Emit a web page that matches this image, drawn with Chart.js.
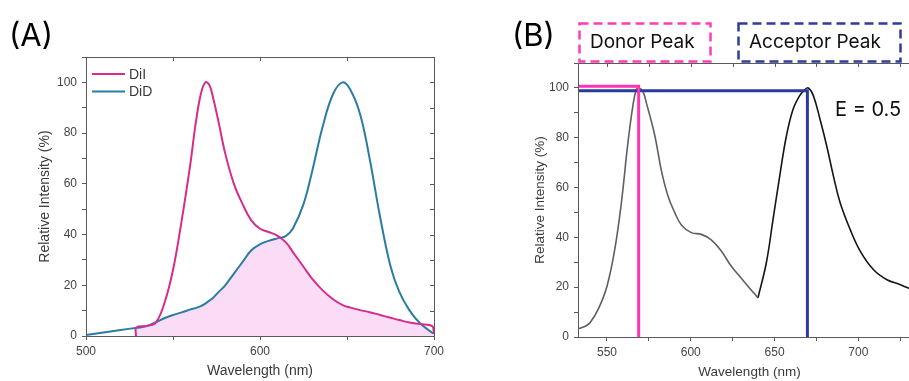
<!DOCTYPE html>
<html>
<head>
<meta charset="utf-8">
<title>DiI / DiD emission spectra</title>
<script src="https://cdn.jsdelivr.net/npm/chart.js@4.4.1/dist/chart.umd.min.js"></script>
<style>
  html, body { margin: 0; padding: 0; background: #fff; }
  .wrap { position: relative; width: 909px; height: 381px; overflow: hidden; }
  canvas { position: absolute; top: 0; }
  #chartA { left: 0; }
  #chartB { left: 450px; }
  .panel-label { position: absolute; font-family: 'Inter', sans-serif; font-size: 31px; line-height: 40px; height: 40px; color: #000; }
  .annot { position: absolute; font-family: 'Inter', sans-serif; font-size: 19px; line-height: 30px; height: 30px; color: #111; white-space: nowrap; }
  svg.boxes { position: absolute; left: 0; top: 0; }
</style>
</head>
<body>
<div class="wrap">
  <canvas id="chartA" width="450" height="381"></canvas>
  <canvas id="chartB" width="475" height="381"></canvas>

  <div class="panel-label" style="left:9px; top:15px;">(A)</div>
  <div class="panel-label" style="left:512px; top:15px;">(B)</div>

  <svg class="boxes" width="909" height="381">
    <rect x="579.5" y="23.5" width="131" height="38" fill="none" stroke="#ff3db4" stroke-width="2.5" stroke-dasharray="9 5"></rect>
    <rect x="738.5" y="23.5" width="162" height="38" fill="none" stroke="#2e3c9c" stroke-width="2.5" stroke-dasharray="9 5"></rect>
  </svg>
  <div class="annot" style="left:590px; top:27px;">Donor Peak</div>
  <div class="annot" style="left:749px; top:27px;">Acceptor Peak</div>
  <div class="annot" style="left:835px; top:94px; font-size:20px;">E = 0.5</div>
</div>

<script>
/* ---------------------------------------------
   Panel A: DiI and DiD emission spectra (%)
   on a shared wavelength grid
   (DiI has no data below ~529 nm).
   --------------------------------------------- */
var wavelengthA = [500, 510, 520, 528.7, 529, 535, 540, 545, 550, 555, 560, 563, 566, 568.6, 571, 573, 576, 580, 585, 590, 595, 600, 605, 610, 615, 619, 625, 630, 636, 642, 647.5, 652, 657.5, 663, 669, 675, 680, 686, 692, 699, 700];
var diiValues   = [null, null, null, 0, 3.4, 4.0, 5.2, 12.8, 26, 45.6, 68, 83.6, 95.4, 100, 98.8, 94, 85, 72, 60, 52, 45.6, 42.3, 41, 39.6, 36.8, 33, 27.3, 22.5, 18, 14.5, 12.2, 11.2, 10.2, 9.4, 8.3, 7.2, 6.3, 5.3, 4.7, 3.9, 1];
var didValues   = [0.4, 1.4, 2.4, 3.2, 3.2, 3.9, 5.4, 7, 8.3, 9.3, 10.5, 11, 11.8, 12.8, 14, 15, 17.2, 20, 24.6, 29.2, 33.8, 36.2, 37.5, 38.5, 39.5, 42.5, 52, 65, 82.5, 95.4, 100, 97, 87.5, 70, 47, 27.5, 17.5, 10, 5, 1.3, 1];

/* ---------------------------------------------
   Panel B: FRET emission spectrum, split into the
   donor band (grey) and acceptor band (black).
   --------------------------------------------- */
var donorBandWl     = [533.3, 537, 540, 545, 550, 554.6, 558.6, 562.5, 565.5, 567.5, 569.3, 571.5, 573.5, 578.5, 582.4, 586.4, 590.4, 594.4, 600.3, 606.3, 612.2, 618.2, 624.2, 629.2, 634.1, 640.1];
var donorBandValues = [3.4, 4.3, 5.8, 11.5, 20.4, 35, 54, 78, 93, 99.3, 100, 98.5, 94, 81, 67, 56.6, 50, 45, 41.9, 41.2, 39, 34.5, 28.4, 24.4, 20.4, 15.7];
var acceptorBandWl     = [640.1, 645.1, 649.1, 653.1, 657.1, 661.1, 665.1, 668.1, 670.1, 673.1, 677.1, 681.1, 685.1, 689.1, 695.1, 701.1, 709.1, 717.1, 725.1, 732];
var acceptorBandValues = [15.7, 29.8, 47.2, 64.7, 80.8, 91.5, 97, 99.3, 100, 97, 87.5, 76.8, 64.7, 54, 43.2, 34.5, 27, 23, 21, 19];

// Peak marker lines: [wavelength, level]
var donorPeak    = [568.9, 100.7];
var acceptorPeak = [669.6, 98.9];

// Tick labels shown on the axes
var yTickLabels  = [0, 20, 40, 60, 80, 100];
var xTickLabelsA = [500, 600, 700];
var xTickLabelsB = [550, 600, 650, 700];

var axisColour = '#5a5a5a';
var textColour = '#3a3a3a';
var fontFamily = "'Liberation Sans', Arial, sans-serif";

Chart.defaults.font.family = fontFamily;
Chart.defaults.color = '#444';
Chart.defaults.animation = false;

function toPoints(xs, ys) {
  return xs.map(function (x, i) { return { x: x, y: ys[i] }; });
}

function onlyLabels(list) {
  return function (value) { return list.indexOf(value) !== -1 ? String(value) : ''; };
}

// Smooth spectrum line, no markers
function spectrum(label, points, colour, width) {
  return { label: label, data: points, borderColor: colour, borderWidth: width,
           pointRadius: 0, tension: 0.4, fill: false };
}

// Box frame round the plot area, with mirrored inward ticks on top and right
var framePlugin = {
  id: 'frame',
  afterDatasetsDraw: function (chart) {
    var a = chart.chartArea, ctx = chart.ctx;
    var xs = chart.scales.x, ys = chart.scales.y;
    ctx.save();
    ctx.strokeStyle = axisColour;
    ctx.lineWidth = 1;
    ctx.strokeRect(Math.round(a.left) + 0.5, Math.round(a.top) + 0.5,
                   Math.round(a.right - a.left), Math.round(a.bottom - a.top));
    ctx.beginPath();
    xs.ticks.forEach(function (t) {
      var px = Math.round(xs.getPixelForValue(t.value)) + 0.5;
      ctx.moveTo(px, a.top); ctx.lineTo(px, a.top + 4);
    });
    ys.ticks.forEach(function (t) {
      var py = Math.round(ys.getPixelForValue(t.value)) + 0.5;
      ctx.moveTo(a.right, py); ctx.lineTo(a.right - 4, py);
    });
    ctx.stroke();
    ctx.restore();
  }
};

// Legend drawn inside the top-left corner of panel A
var insideLegend = {
  id: 'insideLegend',
  afterDraw: function (chart) {
    var a = chart.chartArea, ctx = chart.ctx;
    ctx.save();
    ctx.font = '14px ' + fontFamily;
    ctx.textBaseline = 'middle';
    [0, 1].forEach(function (i) {
      var ds = chart.data.datasets[i];
      var y = a.top + 17 + i * 17.5;
      ctx.strokeStyle = ds.borderColor;
      ctx.lineWidth = 2;
      ctx.beginPath();
      ctx.moveTo(a.left + 6, y); ctx.lineTo(a.left + 39, y);
      ctx.stroke();
      ctx.fillStyle = textColour;
      ctx.fillText(ds.label, a.left + 43, y + 1);
    });
    ctx.restore();
  }
};

function xAxis(min, max, step, labels, height, titleSize) {
  return {
    type: 'linear', min: min, max: max,
    ticks: { stepSize: step, includeBounds: false, autoSkip: false, maxRotation: 0,
             callback: onlyLabels(labels), padding: 4, color: '#444', font: { size: 12 } },
    grid: { drawOnChartArea: false, tickLength: 4, color: axisColour },
    border: { color: axisColour },
    title: { display: true, text: 'Wavelength (nm)', color: textColour,
             font: { size: titleSize }, padding: { top: 0, bottom: 1 } },
    afterFit: function (s) { s.height = height; }
  };
}

function yAxis(width, titlePad, titleSize) {
  return {
    min: 0, max: 110,
    ticks: { stepSize: 10, autoSkip: false, callback: onlyLabels(yTickLabels),
             padding: 5, color: '#444', font: { size: 12 } },
    grid: { drawOnChartArea: false, tickLength: 4, color: axisColour },
    border: { color: axisColour },
    title: { display: true, text: 'Relative Intensity (%)', color: textColour,
             font: { size: titleSize }, padding: { top: titlePad, bottom: 0 } },
    afterFit: function (s) { s.width = width; }
  };
}

/* --- Panel A --- */
// Shaded spectral overlap: the lower of the two read curves at each grid point
var overlapValues = diiValues.map(function (v, i) {
  return v === null ? null : Math.min(v, didValues[i]);
});

var overlapSet = spectrum('', toPoints(wavelengthA, overlapValues), 'rgba(0,0,0,0)', 0);
overlapSet.backgroundColor = '#fbdcf6';
overlapSet.fill = 'origin';

new Chart(document.getElementById('chartA'), {
  type: 'line',
  data: {
    datasets: [
      spectrum('DiI', toPoints(wavelengthA, diiValues), '#d62c8c', 2),
      spectrum('DiD', toPoints(wavelengthA, didValues), '#2a7ca2', 2),
      overlapSet
    ]
  },
  options: {
    responsive: false,
    devicePixelRatio: 1,
    layout: { padding: { top: 57, right: 16, left: 0, bottom: 0 } },
    plugins: { legend: { display: false }, tooltip: { enabled: false } },
    scales: {
      x: xAxis(500, 700, 50, xTickLabelsA, 45, 14),
      y: yAxis(86, 37, 14)
    }
  },
  plugins: [framePlugin, insideLegend]
});

/* --- Panel B --- */
var xMinB = 532.7;

new Chart(document.getElementById('chartB'), {
  type: 'line',
  data: {
    datasets: [
      { label: 'Donor peak', data: [{ x: xMinB, y: donorPeak[1] }, { x: donorPeak[0], y: donorPeak[1] }, { x: donorPeak[0], y: 0 }],
        borderColor: '#ff33b4', borderWidth: 3, pointRadius: 0, tension: 0, fill: false },
      { label: 'Acceptor peak', data: [{ x: xMinB, y: acceptorPeak[1] }, { x: acceptorPeak[0], y: acceptorPeak[1] }, { x: acceptorPeak[0], y: 0 }],
        borderColor: '#2b3a9c', borderWidth: 3, pointRadius: 0, tension: 0, fill: false },
      spectrum('Donor band', toPoints(donorBandWl, donorBandValues), '#606060', 1.6),
      spectrum('Acceptor band', toPoints(acceptorBandWl, acceptorBandValues), '#151515', 1.6)
    ]
  },
  options: {
    responsive: false,
    devicePixelRatio: 1,
    layout: { padding: { top: 63, right: 4, left: 0, bottom: 0 } },
    plugins: { legend: { display: false }, tooltip: { enabled: false } },
    scales: {
      x: xAxis(xMinB, 737.4, 25, xTickLabelsB, 44, 13.5),
      y: yAxis(128, 82.5, 13.5)
    }
  },
  plugins: [framePlugin]
});
</script>
</body>
</html>
